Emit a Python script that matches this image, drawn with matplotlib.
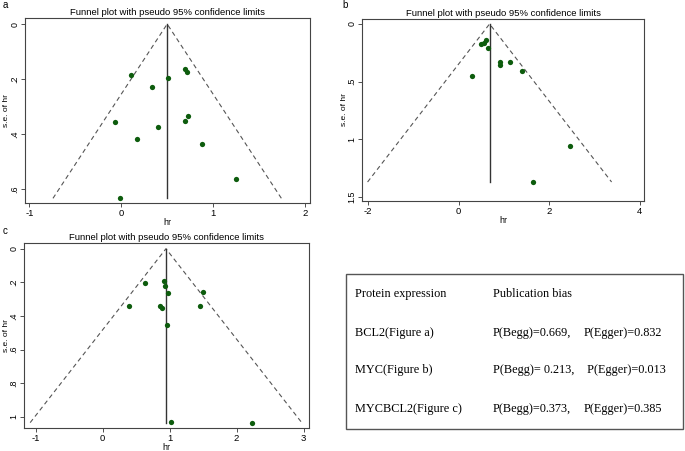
import matplotlib
matplotlib.use('Agg')
import matplotlib.pyplot as plt
from matplotlib.patches import Rectangle

# panel a (BCL2)
hr_a = [0.109, 0.34, 0.514, 0.692, 0.717, -0.065, 0.395, 0.728, 0.696, 0.167, 0.877, 1.25, -0.014]
se_a = [0.187, 0.229, 0.198, 0.162, 0.173, 0.356, 0.373, 0.335, 0.354, 0.418, 0.435, 0.564, 0.634]
pooled_a = 0.5

# panel b (MYC)
hr_b = [0.596, 0.559, 0.493, 0.64, 0.919, 0.919, 1.14, 1.41, 0.301, 2.456, 1.647]
se_b = [0.136, 0.168, 0.176, 0.208, 0.329, 0.353, 0.327, 0.405, 0.454, 1.064, 1.373]
pooled_b = 0.684

# panel c (MYC/BCL2)
hr_c = [0.637, 0.915, 0.93, 0.98, 1.498, 0.388, 0.861, 0.891, 1.448, 0.96, 1.025, 2.224]
se_c = [0.201, 0.191, 0.219, 0.262, 0.258, 0.34, 0.34, 0.35, 0.34, 0.455, 1.032, 1.034]
pooled_c = 0.945

table_rows = [
    ('Protein expression', 'Publication bias', ''),
    ('BCL2(Figure a)', 'P(Begg)=0.669,', 'P(Egger)=0.832'),
    ('MYC(Figure b)', 'P(Begg)= 0.213,', ' P(Egger)=0.013'),
    ('MYCBCL2(Figure c)', 'P(Begg)=0.373,', 'P(Egger)=0.385'),
]

W, H = 685, 451
fig = plt.figure(figsize=(W / 100, H / 100), dpi=100)
plt.rcParams['font.family'] = ['Liberation Sans', 'DejaVu Sans']


def px_axes(left, top, right, bottom):
    return fig.add_axes([left / W, 1 - bottom / H, (right - left) / W, (bottom - top) / H])


def fmt(v):
    s = ('%g' % v)
    if s.startswith('0.'):
        s = s[1:]
    return s


def funnel(ax, hr, se, pooled, xlim, ylim, xticks, yticks, width_px):
    semax = max(se)
    half = 1.96 * semax
    ax.plot([pooled - half, pooled, pooled + half], [semax, 0, semax],
            ls=(0, (4, 3)), color='#555555', lw=0.8)
    ax.plot([pooled, pooled], [0, semax], color='#333333', lw=1.0)
    ax.plot(hr, se, 'o', color='#0d5c0d', markersize=3.8, markeredgewidth=0)
    ax.set_xlim(xlim)
    ax.set_ylim(ylim)
    ax.set_xticks(xticks)
    ax.set_xticklabels([fmt(t) for t in xticks], fontsize=6.8)
    ax.set_yticks(yticks)
    ax.set_yticklabels([fmt(t) for t in yticks], fontsize=6.4, rotation=90, va='center')
    ax.tick_params(length=3, width=0.6, pad=1.0, color='#333333')
    for s in ax.spines.values():
        s.set_linewidth(0.8)
        s.set_color('#444444')
    ax.set_xlabel('hr', fontsize=6.5, labelpad=0)
    ax.set_ylabel('s.e. of hr', fontsize=6.0)
    ax.yaxis.set_label_coords(-14.5 / width_px, 0.5)
    ax.set_title('Funnel plot with pseudo 95% confidence limits', fontsize=6.8, pad=2)


ax_a = px_axes(25, 18, 310, 203)
funnel(ax_a, hr_a, se_a, pooled_a, (-1.047, 2.054), (0.651, -0.022),
       [-1, 0, 1, 2], [0, 0.2, 0.4, 0.6], 285)

ax_b = px_axes(362, 19, 644, 201)
funnel(ax_b, hr_b, se_b, pooled_b, (-2.13, 4.09), (1.538, -0.043),
       [-2, 0, 2, 4], [0, 0.5, 1, 1.5], 282)

ax_c = px_axes(24, 243, 309, 428)
funnel(ax_c, hr_c, se_c, pooled_c, (-1.174, 3.08), (1.066, -0.034),
       [-1, 0, 1, 2, 3], [0, 0.2, 0.4, 0.6, 0.8, 1], 285)

# panel letters
for letter, x, y in [('a', 3, 5), ('b', 342, 5), ('c', 3, 231)]:
    fig.text(x / W, 1 - y / H, letter, fontsize=7, ha='left', va='center')

# table of publication bias
fig.patches.append(Rectangle((346 / W, 1 - 429 / H), (683 - 346) / W, (429 - 274) / H,
                             transform=fig.transFigure, fill=False,
                             edgecolor='#555555', linewidth=1.0))
row_y = [294, 333, 370, 409]
col_x = [355, 493, 584]
for (c1, c2, c3), y in zip(table_rows, row_y):
    for txt, x in zip((c1, c2, c3), col_x):
        fig.text(x / W, 1 - y / H, txt, fontsize=8.8, family='Liberation Serif',
                 ha='left', va='center')

fig.savefig('out.png', dpi=100)
